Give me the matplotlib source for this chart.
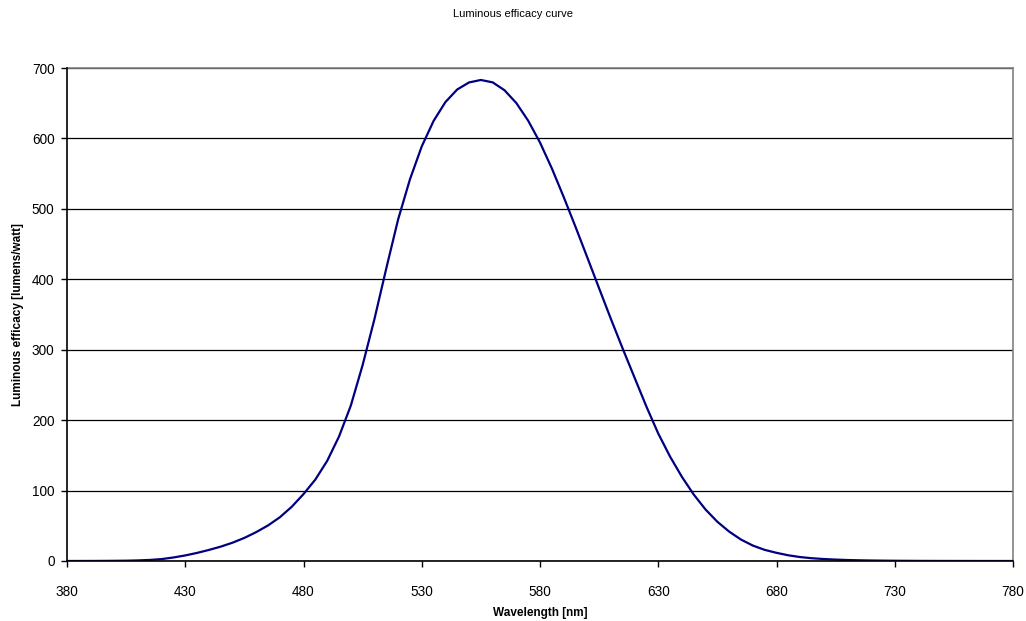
import matplotlib
matplotlib.use("Agg")
import matplotlib.pyplot as plt

plt.rcParams['font.family'] = ['Liberation Sans', 'DejaVu Sans']

# Data (lumens/watt, 5 nm steps)
wavelengths = list(range(380, 785, 5))
efficacy = [
    0.03, 0.04, 0.08, 0.15, 0.27, 0.44, 0.83, 1.5, 2.7, 5.0,      # 380-425
    7.9, 11.5, 15.7, 20.4, 26.0, 32.8, 41.0, 50.5, 62.1, 76.9,    # 430-475
    95.0, 115.6, 142.1, 176.6, 220.6, 278.2, 343.5, 415.4, 484.9, 541.8,  # 480-525
    588.7, 624.8, 651.6, 669.5, 679.5, 683.0, 679.6, 668.4, 650.2, 625.2,  # 530-575
    594.2, 557.5, 517.0, 474.6, 431.0, 387.1, 343.5, 301.3, 260.2, 219.2,  # 580-625
    181.0, 148.2, 119.5, 94.4, 73.1, 55.7, 41.7, 30.4, 21.9, 15.8,  # 630-675
    11.6, 8.1, 5.6, 3.9, 2.8, 2.0, 1.4, 1.0, 0.7, 0.5,             # 680-725
    0.35, 0.25, 0.17, 0.12, 0.08, 0.06, 0.04, 0.03, 0.02, 0.01,    # 730-775
    0.01,                                                          # 780
]
x_ticks = list(range(380, 781, 50))
y_ticks = list(range(0, 701, 100))

W, H = 1026, 621
fig = plt.figure(figsize=(W / 100, H / 100), dpi=100)
ax = fig.add_axes([67 / W, 1 - 561 / H, 946 / W, 493 / H])

ax.plot(wavelengths, efficacy, color='#000080', linewidth=1.6, zorder=3)

ax.set_xlim(380, 780)
ax.set_ylim(0, 700)
ax.set_xticks(x_ticks)
ax.set_yticks(y_ticks)
ax.yaxis.grid(True, color='black', linewidth=0.9)
ax.set_axisbelow(True)

for s in ['top', 'right']:
    ax.spines[s].set_color('#808080')
    ax.spines[s].set_linewidth(1.2)
for s in ['left', 'bottom']:
    ax.spines[s].set_color('black')
    ax.spines[s].set_linewidth(1.2)
    ax.spines[s].set_zorder(4)

ax.tick_params(axis='x', direction='out', length=4, width=1, pad=13, labelsize=9.8)
ax.tick_params(axis='y', direction='out', length=4, width=1, pad=5, labelsize=9.8)

ax.set_xlabel('Wavelength [nm]', fontsize=8.5, fontweight='bold', labelpad=6)
ax.set_ylabel('Luminous efficacy [lumens/watt]', fontsize=8.5, fontweight='bold', labelpad=6)
fig.text(0.5, 1 - 14 / H, 'Luminous efficacy curve', ha='center', va='center', fontsize=8)

fig.savefig('out.png', dpi=100)
